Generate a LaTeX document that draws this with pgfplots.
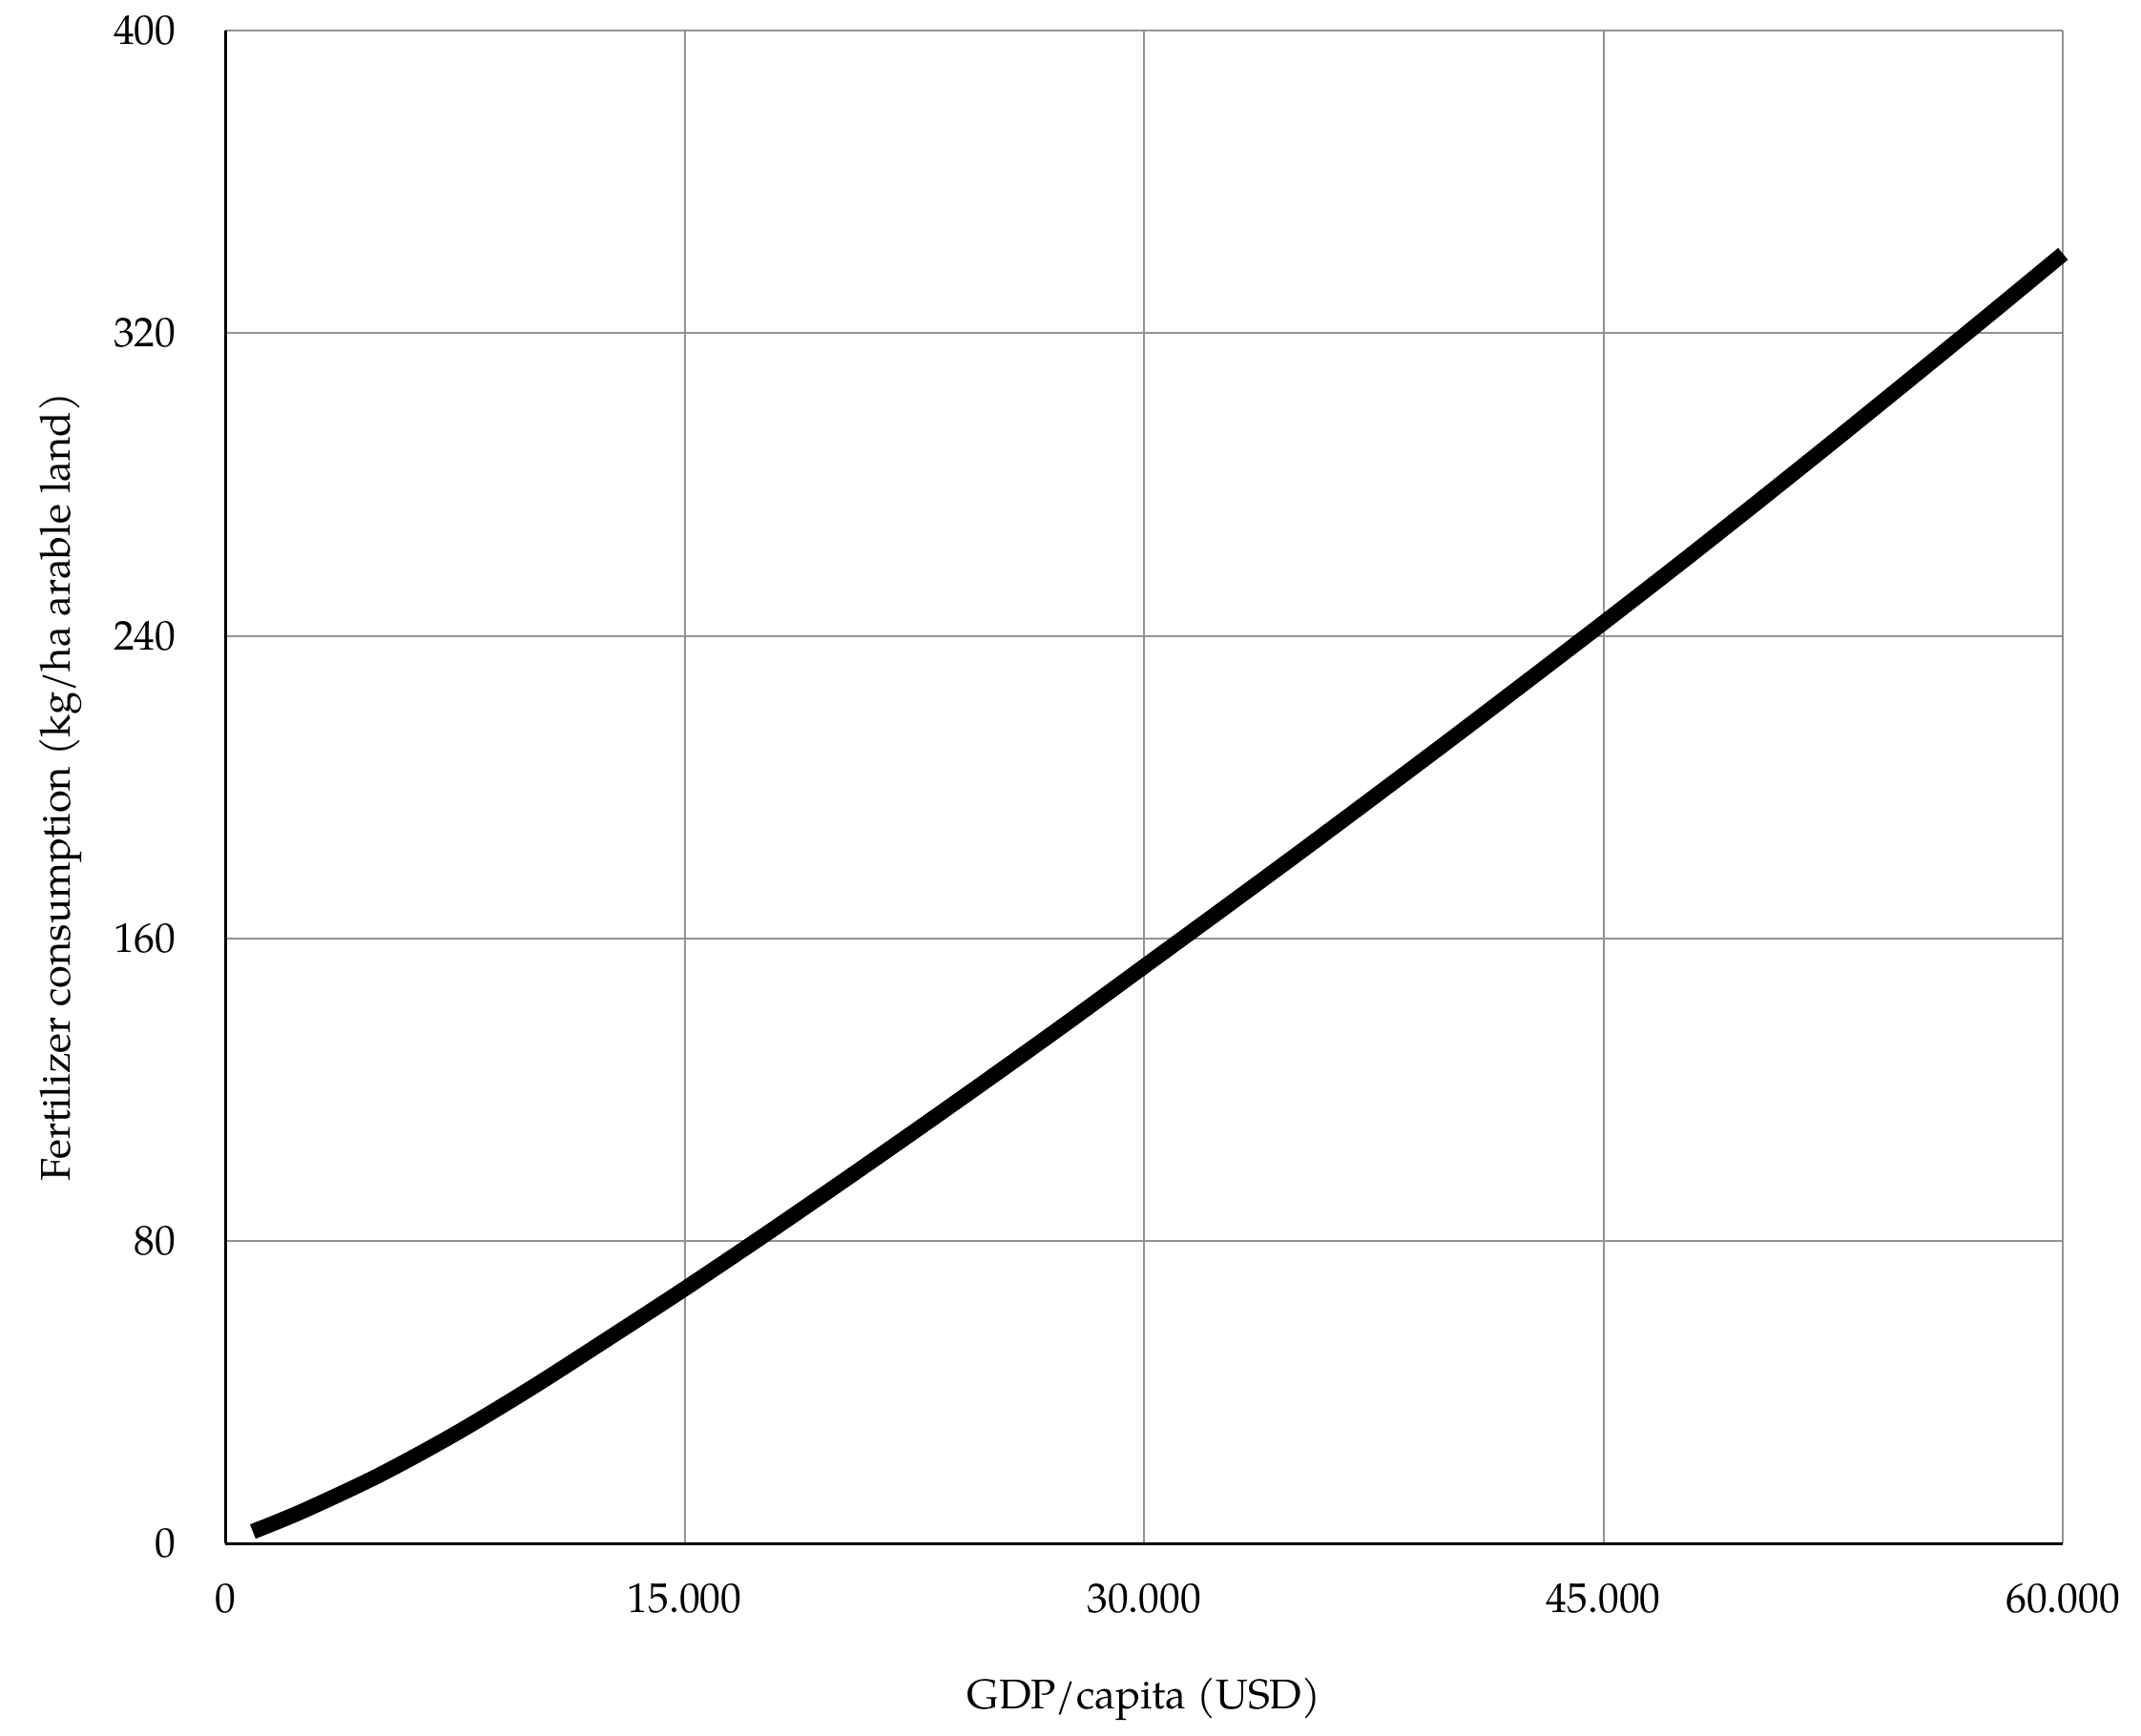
\documentclass[border=0pt]{standalone}
\usepackage{fontspec}
\setmainfont{TeX Gyre Pagella}
\usepackage{pgfplots}
\pgfplotsset{compat=1.18}
\begin{document}
\begin{tikzpicture}
\useasboundingbox (-54.3pt,-46.2pt) rectangle (461.8pt,372.2pt);
\begin{axis}[
  at={(0,0)}, anchor=south west,
  scale only axis,
  width=443pt, height=364.8pt,
  xmin=0, xmax=60000, ymin=0, ymax=400,
  axis lines*=left,
  axis line style={black, line width=0.7pt, -},
  xtick={0,15000,30000,45000,60000},
  xticklabels={0,15.000,30.000,45.000,60.000},
  ytick={0,80,160,240,320,400},
  scaled x ticks=false,
  major tick length=0pt,
  grid=major,
  major grid style={draw=gray!85, line width=0.45pt},
  /pgf/number format/assume math mode=true,
  xticklabel style={anchor=base, yshift=-16.5pt, font=\fontsize{10}{12}\selectfont},
  yticklabel style={anchor=east, inner sep=0pt, xshift=-11.7pt, font=\fontsize{10}{12}\selectfont},
  xlabel={GDP/capita (USD)},
  ylabel={Fertilizer consumption (kg/ha arable land)},
  every axis x label/.style={at={(axis description cs:0.5,-0.109)}, anchor=base},
  every axis y label/.style={at={(axis description cs:-0.0894,0.5)}, rotate=90, anchor=center},
  clip=false,
]
\addplot[black, line width=3.7pt, line join=round, smooth, tension=0.5] coordinates {
(900,3.2) (2500,8.5) (5000,18.0) (7500,29.0) (10000,41.2) (12500,54.2)
(15000,67.4) (17500,81.0) (20000,94.9) (22500,109.0) (25000,123.3) (27500,137.8)
(30000,152.6) (32500,167.4) (35000,182.3) (37500,197.4) (40000,212.6)
(42500,228.0) (45000,243.5) (47500,259.2) (50000,275.2) (52500,291.4)
(55000,307.8) (57500,324.3) (60000,341.0)
};
\end{axis}
\end{tikzpicture}
\end{document}
